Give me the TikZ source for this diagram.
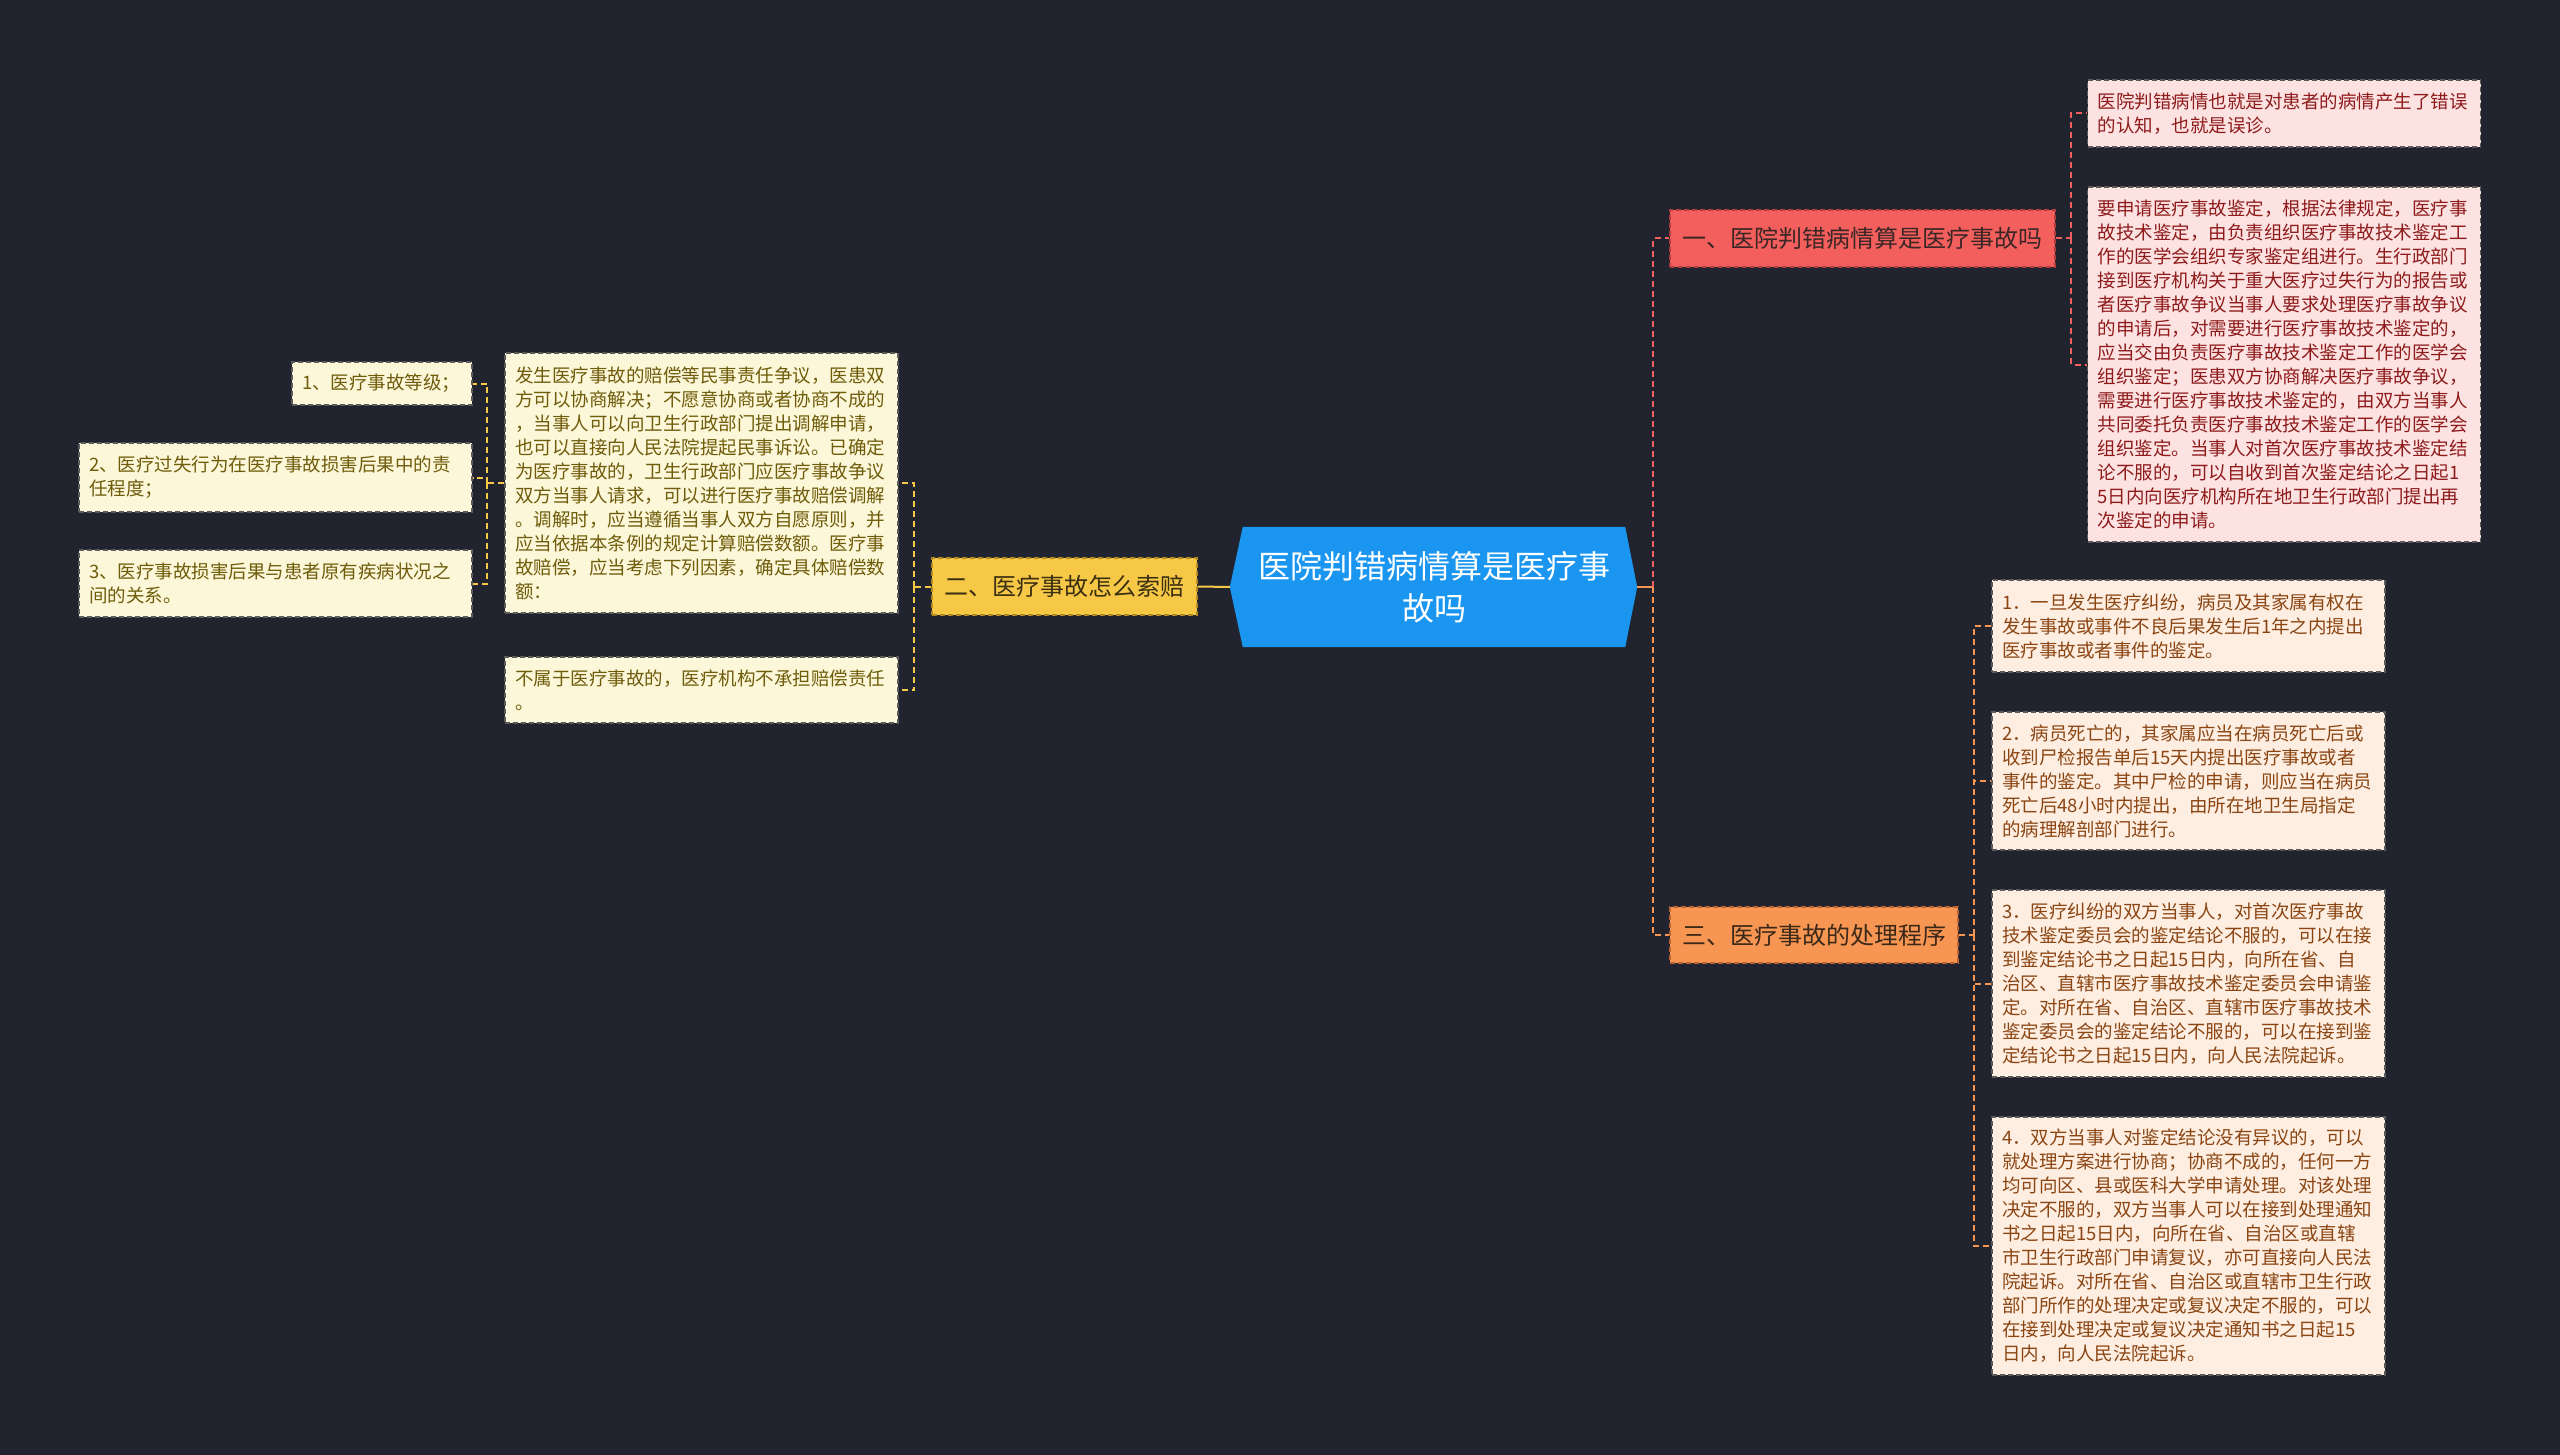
\documentclass[tikz,border=0pt]{standalone}
\usepackage{fontspec}
\setmainfont{Noto Sans CJK SC}
\usetikzlibrary{calc}
\definecolor{bg}{HTML}{21242F}
\definecolor{ctr}{HTML}{1A96F0}
\definecolor{rfill}{HTML}{F25F5C}
\definecolor{rdraw}{HTML}{B53C3A}
\definecolor{rtxt}{HTML}{3C2626}
\definecolor{yfill}{HTML}{F7C846}
\definecolor{ydraw}{HTML}{B38B1E}
\definecolor{ytxt}{HTML}{3A2F10}
\definecolor{ofill}{HTML}{F79552}
\definecolor{odraw}{HTML}{B86330}
\definecolor{otxt}{HTML}{3A2818}
\definecolor{rleaf}{HTML}{FDE2E2}
\definecolor{rleaftxt}{HTML}{8E1B1B}
\definecolor{oleaf}{HTML}{FDEEE1}
\definecolor{oleaftxt}{HTML}{8B4513}
\definecolor{yleaf}{HTML}{FDF7DA}
\definecolor{yleaftxt}{HTML}{6E5C0A}
\definecolor{leafdraw}{HTML}{5A5A5A}
\pgfdeclarelayer{back}
\pgfdeclarelayer{mid}
\pgfsetlayers{back,mid,main}
\tikzset{
  box/.style={draw, dash pattern=on 5pt off 3pt, line width=1.3pt, inner xsep=10pt, inner ysep=0pt, align=left, anchor=center},
  branchbox/.style={box, align=center, font=\fontsize{24}{30}\selectfont, inner xsep=0pt},
  leafbox/.style={box, draw=leafdraw, font=\fontsize{18.5}{24}\selectfont, text width=373pt},
  rleafbox/.style={leafbox, fill=rleaf, text=rleaftxt},
  oleafbox/.style={leafbox, fill=oleaf, text=oleaftxt},
  yleafbox/.style={leafbox, fill=yleaf, text=yleaftxt},
  conn/.style={line width=2pt},
  dconn/.style={conn, dash pattern=on 6pt off 4pt},
}
\begin{document}
\begin{tikzpicture}[x=1pt,y=-1pt]
\useasboundingbox (0,0) rectangle (2560,1455);
\begin{pgfonlayer}{back}
\fill[bg] (0,0) rectangle (2560,1455);
\end{pgfonlayer}

% centre
\node (c) at (1434,587) [minimum width=382pt, minimum height=120pt, inner sep=0pt, text=white, align=center, font=\fontsize{32}{42}\selectfont] {医院判错病情算是医疗事\\故吗};
\coordinate (cl) at ($(c.west)+(-13,0)$);
\coordinate (cr) at ($(c.east)+(12,0)$);
\begin{pgfonlayer}{mid}
\fill[ctr] (c.north west) -- (c.north east) -- (cr) -- (c.south east) -- (c.south west) -- (cl) -- cycle;
\end{pgfonlayer}

% branches
\node (b1) at (1862.5,238.5) [branchbox, fill=rfill, draw=rdraw, text=rtxt, minimum width=385pt, minimum height=57pt] {一、医院判错病情算是医疗事故吗};
\node (b2) at (1064.5,586.5) [branchbox, fill=yfill, draw=ydraw, text=ytxt, minimum width=265pt, minimum height=57pt] {二、医疗事故怎么索赔};
\node (b3) at (1814,935) [branchbox, fill=ofill, draw=odraw, text=otxt, minimum width=288pt, minimum height=56pt] {三、医疗事故的处理程序};

% red leaves
\node (r1) at (2284,113.5) [rleafbox, minimum height=67pt] {医院判错病情也就是对患者的病情产生了错误\\的认知，也就是误诊。};
\node (r2) at (2284,364.5) [rleafbox, minimum height=355pt] {要申请医疗事故鉴定，根据法律规定，医疗事\\故技术鉴定，由负责组织医疗事故技术鉴定工\\作的医学会组织专家鉴定组进行。生行政部门\\接到医疗机构关于重大医疗过失行为的报告或\\者医疗事故争议当事人要求处理医疗事故争议\\的申请后，对需要进行医疗事故技术鉴定的，\\应当交由负责医疗事故技术鉴定工作的医学会\\组织鉴定；医患双方协商解决医疗事故争议，\\需要进行医疗事故技术鉴定的，由双方当事人\\共同委托负责医疗事故技术鉴定工作的医学会\\组织鉴定。当事人对首次医疗事故技术鉴定结\\论不服的，可以自收到首次鉴定结论之日起1\\5日内向医疗机构所在地卫生行政部门提出再\\次鉴定的申请。};

% orange leaves
\node (o1) at (2188.5,626) [oleafbox, minimum height=92pt] {1．一旦发生医疗纠纷，病员及其家属有权在\\发生事故或事件不良后果发生后1年之内提出\\医疗事故或者事件的鉴定。};
\node (o2) at (2188.5,781) [oleafbox, minimum height=138pt] {2．病员死亡的，其家属应当在病员死亡后或\\收到尸检报告单后15天内提出医疗事故或者\\事件的鉴定。其中尸检的申请，则应当在病员\\死亡后48小时内提出，由所在地卫生局指定\\的病理解剖部门进行。};
\node (o3) at (2188.5,983.5) [oleafbox, minimum height=187pt] {3．医疗纠纷的双方当事人，对首次医疗事故\\技术鉴定委员会的鉴定结论不服的，可以在接\\到鉴定结论书之日起15日内，向所在省、自\\治区、直辖市医疗事故技术鉴定委员会申请鉴\\定。对所在省、自治区、直辖市医疗事故技术\\鉴定委员会的鉴定结论不服的，可以在接到鉴\\定结论书之日起15日内，向人民法院起诉。};
\node (o4) at (2188.5,1246) [oleafbox, minimum height=258pt] {4．双方当事人对鉴定结论没有异议的，可以\\就处理方案进行协商；协商不成的，任何一方\\均可向区、县或医科大学申请处理。对该处理\\决定不服的，双方当事人可以在接到处理通知\\书之日起15日内，向所在省、自治区或直辖\\市卫生行政部门申请复议，亦可直接向人民法\\院起诉。对所在省、自治区或直辖市卫生行政\\部门所作的处理决定或复议决定不服的，可以\\在接到处理决定或复议决定通知书之日起15\\日内，向人民法院起诉。};

% yellow leaves
\node (y1) at (701.5,483) [yleafbox, minimum height=260pt] {发生医疗事故的赔偿等民事责任争议，医患双\\方可以协商解决；不愿意协商或者协商不成的\\，当事人可以向卫生行政部门提出调解申请，\\也可以直接向人民法院提起民事诉讼。已确定\\为医疗事故的，卫生行政部门应医疗事故争议\\双方当事人请求，可以进行医疗事故赔偿调解\\。调解时，应当遵循当事人双方自愿原则，并\\应当依据本条例的规定计算赔偿数额。医疗事\\故赔偿，应当考虑下列因素，确定具体赔偿数\\额：};
\node (y2) at (701.5,690) [yleafbox, minimum height=66pt] {不属于医疗事故的，医疗机构不承担赔偿责任\\。};
\node (g1) at (382,383.5) [yleafbox, text width=160pt, minimum height=43pt] {1、医疗事故等级；};
\node (g2) at (275.5,477.5) [yleafbox, minimum height=69pt] {2、医疗过失行为在医疗事故损害后果中的责\\任程度；};
\node (g3) at (275.5,583.5) [yleafbox, minimum height=67pt] {3、医疗事故损害后果与患者原有疾病状况之\\间的关系。};

% connectors
\begin{pgfonlayer}{mid}
\draw[conn, draw=yfill] (cl) -- (b2.east);
\draw[conn, draw=ofill] (cr) -- ++(16,0) coordinate (jr);
\draw[dconn, draw=rfill] (jr) |- (b1.west);
\draw[dconn, draw=ofill] (jr) |- (b3.west);

\draw[dconn, draw=rfill] (b1.east) -- ++(15,0) coordinate (j1);
\draw[dconn, draw=rfill] (j1) |- (r1.west);
\draw[dconn, draw=rfill] (j1) |- (r2.west);

\draw[dconn, draw=ofill] (b3.east) -- ++(15,0) coordinate (j3);
\draw[dconn, draw=ofill] (j3) |- (o1.west);
\draw[dconn, draw=ofill] (j3) |- (o2.west);
\draw[dconn, draw=ofill] (j3) |- (o3.west);
\draw[dconn, draw=ofill] (j3) |- (o4.west);

\draw[dconn, draw=yfill] (b2.west) -- ++(-17,0) coordinate (j2);
\draw[dconn, draw=yfill] (j2) |- (y1.east);
\draw[dconn, draw=yfill] (j2) |- (y2.east);

\draw[dconn, draw=yfill] (y1.west) -- ++(-17,0) coordinate (j4);
\draw[dconn, draw=yfill] (j4) |- (g1.east);
\draw[dconn, draw=yfill] (j4) |- (g2.east);
\draw[dconn, draw=yfill] (j4) |- (g3.east);
\end{pgfonlayer}
\end{tikzpicture}
\end{document}
